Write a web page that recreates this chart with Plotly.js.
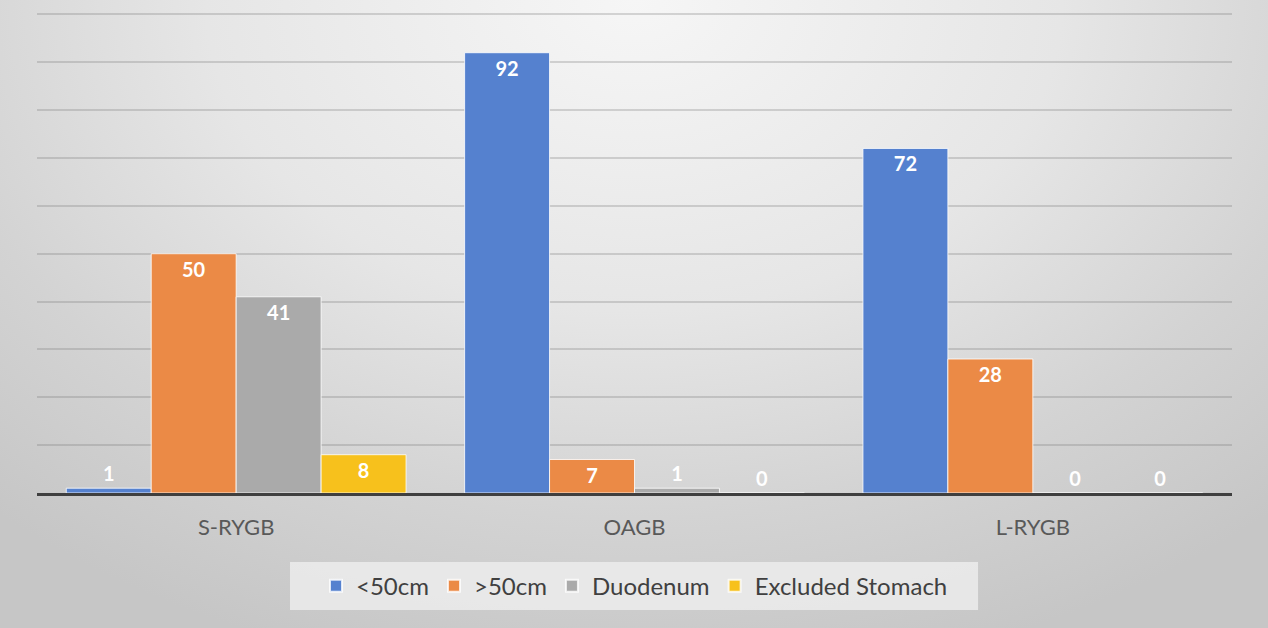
<!DOCTYPE html>
<html>
<head>
<meta charset="utf-8">
<script src="https://cdn.plot.ly/plotly-3.0.1.min.js"></script>
<style>
  html, body { margin: 0; padding: 0; }
  #chart {
    width: 1268px; height: 628px;
    background: radial-gradient(ellipse 75% 110% at 50% 0%, #f6f6f6 0%, #e6e6e6 45%, #d3d3d3 75%, #c6c6c6 100%);
  }
</style>
</head>
<body>
<div id="chart"></div>
<script>
const categories = ["S-RYGB", "OAGB", "L-RYGB"];
const seriesNames = ["<50cm", ">50cm", "Duodenum", "Excluded Stomach"];
const lt50 = [1, 92, 72];
const gt50 = [50, 7, 28];
const duodenum = [41, 1, 0];
const excludedStomach = [8, 0, 0];

const colors = ["#5581cf", "#eb8a46", "#aaaaaa", "#f7c11c"];
const values = [lt50, gt50, duodenum, excludedStomach];

const labelFont = { family: "Lato, 'Open Sans', sans-serif", size: 20, color: "#ffffff", weight: "bold" };

const traces = values.map((v, i) => ({
  type: "bar",
  name: seriesNames[i],
  x: categories,
  y: v,
  text: v.map(String),
  textposition: v.map(val => val >= 5 ? "inside" : "outside"),
  insidetextanchor: "end",
  constraintext: "none",
  textangle: 0,
  textfont: labelFont,
  insidetextfont: labelFont,
  outsidetextfont: labelFont,
  cliponaxis: false,
  marker: { color: colors[i], line: { color: "rgba(255,255,255,0.8)", width: 1 } },
  hoverinfo: "name+y"
}));

const layout = {
  width: 1268,
  height: 628,
  margin: { l: 37, r: 36, t: 13, b: 135 },
  paper_bgcolor: "rgba(0,0,0,0)",
  plot_bgcolor: "rgba(0,0,0,0)",
  barmode: "group",
  bargap: 0.147,
  bargroupgap: 0,
  font: { family: "Lato, 'Open Sans', sans-serif", color: "#595959" },
  xaxis: {
    type: "category",
    showgrid: false,
    showline: true,
    linecolor: "#3f3f3f",
    linewidth: 3,
    ticks: "outside",
    ticklen: 13,
    tickcolor: "rgba(0,0,0,0)",
    tickfont: { size: 22, color: "#595959" },
    zeroline: false
  },
  yaxis: {
    range: [0, 100.3],
    tick0: 0,
    dtick: 10,
    showticklabels: false,
    showgrid: true,
    gridcolor: "rgba(120,120,120,0.28)",
    gridwidth: 2,
    zeroline: false,
    showline: false
  },
  shapes: [{
    type: "rect",
    xref: "paper", yref: "paper",
    x0: 0.2117, x1: 0.7875,
    y0: -0.244, y1: -0.144,
    fillcolor: "rgba(236,236,236,0.85)",
    line: { width: 0 },
    layer: "below"
  }],
  showlegend: true,
  legend: {
    orientation: "h",
    x: 0.5,
    xanchor: "center",
    y: -0.194,
    yanchor: "middle",
    bgcolor: "rgba(0,0,0,0)",
    borderwidth: 0,
    font: { size: 24, color: "#404040" },
    itemsizing: "constant",
    traceorder: "normal"
  }
};

Plotly.newPlot("chart", traces, layout, { displayModeBar: false, staticPlot: true });
</script>
</body>
</html>
